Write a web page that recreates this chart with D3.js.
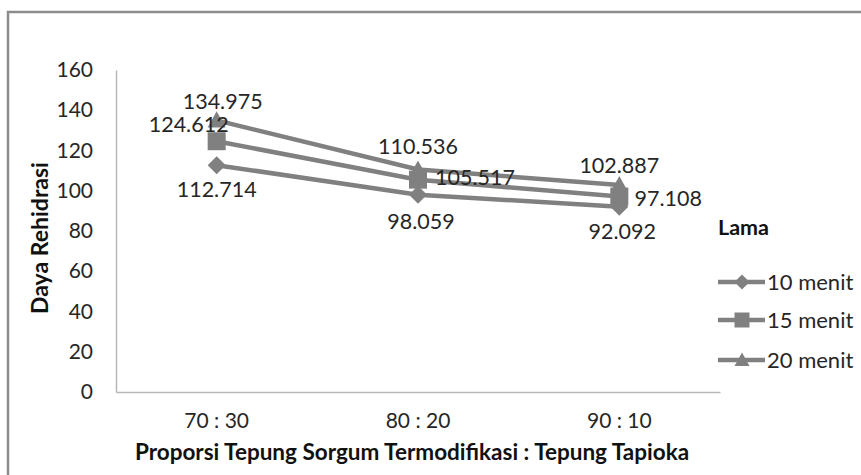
<!DOCTYPE html>
<html>
<head>
<meta charset="utf-8">
<script src="https://cdn.jsdelivr.net/npm/d3@7/dist/d3.min.js"></script>
<style>
  html, body { margin: 0; padding: 0; background: #fff; }
  svg { display: block; }
</style>
</head>
<body>
<svg id="chart" width="861" height="475"></svg>
<script>
// ---- data ----
const categories = ["70 : 30", "80 : 20", "90 : 10"];
const seriesNames = ["10 menit", "15 menit", "20 menit"];
const values10 = [112.714, 98.059, 92.092];
const values15 = [124.612, 105.517, 97.108];
const values20 = [134.975, 110.536, 102.887];
const yTicks = [0, 20, 40, 60, 80, 100, 120, 140, 160];
const labels10 = ["112.714", "98.059", "92.092"];
const labels15 = ["124.612", "105.517", "97.108"];
const labels20 = ["134.975", "110.536", "102.887"];

// label placement offsets (px) relative to marker, per series / point
const offsets10 = [[0, 24], [3, 27], [3, 25]];
const offsets15 = [[-28, -17], [57, -2], [49, 2]];
const offsets20 = [[6, -19], [0, -23], [0, -19]];

// custom marker shapes (size = full width in px)
const diamondType = { draw(ctx, s) { const r = s / 2; ctx.moveTo(0, -r); ctx.lineTo(r, 0); ctx.lineTo(0, r); ctx.lineTo(-r, 0); ctx.closePath(); } };
const squareType = { draw(ctx, s) { const r = s / 2; ctx.rect(-r, -r, s, s); } };
const triangleType = { draw(ctx, s) { const r = s / 2; ctx.moveTo(0, -r * 1.0); ctx.lineTo(r, r * 0.8); ctx.lineTo(-r, r * 0.8); ctx.closePath(); } };

const series = [
  { name: seriesNames[0], values: values10, labels: labels10, offsets: offsets10, symbol: diamondType },
  { name: seriesNames[1], values: values15, labels: labels15, offsets: offsets15, symbol: squareType },
  { name: seriesNames[2], values: values20, labels: labels20, offsets: offsets20, symbol: triangleType }
];

const svg = d3.select("#chart");
const lineColor = "#808080";
const textColor = "#262626";
const font = "Lato, 'Open Sans', sans-serif";

// outer frame (top and left visible)
svg.append("path")
  .attr("d", "M8,475 L8,12 L861,12")
  .attr("fill", "none")
  .attr("stroke", "#8c8c8c")
  .attr("stroke-width", 2.5);

const plot = { left: 116, right: 720, top: 70, bottom: 392 };

const x = d3.scaleBand().domain(categories).range([plot.left, plot.right]);
const y = d3.scaleLinear().domain([0, 160]).range([plot.bottom, plot.top]);

// axes
const xAxis = svg.append("g")
  .attr("transform", `translate(0,${plot.bottom})`)
  .call(d3.axisBottom(x).tickSize(0).tickPadding(21));
xAxis.select(".domain").attr("stroke", "#b8b8b8").attr("stroke-width", 1.5);
xAxis.selectAll("text")
  .attr("font-family", font).attr("font-size", 21).attr("fill", textColor);

const yAxis = svg.append("g")
  .attr("transform", `translate(${plot.left},0)`)
  .call(d3.axisLeft(y).tickValues(yTicks).tickSize(0).tickPadding(23));
yAxis.select(".domain").attr("stroke", "#b8b8b8").attr("stroke-width", 1.5);
yAxis.selectAll("text")
  .attr("font-family", font).attr("font-size", 21).attr("fill", textColor);

// axis titles
svg.append("text")
  .attr("x", 412).attr("y", 460)
  .attr("text-anchor", "middle")
  .attr("font-family", font).attr("font-size", 22.5).attr("font-weight", "bold")
  .attr("fill", "#111")
  .text("Proporsi  Tepung Sorgum Termodifikasi : Tepung Tapioka");

svg.append("text")
  .attr("transform", "translate(48,238) rotate(-90)")
  .attr("text-anchor", "middle")
  .attr("font-family", font).attr("font-size", 23).attr("font-weight", "bold")
  .attr("fill", "#111")
  .text("Daya Rehidrasi");

// lines
const line = d3.line()
  .x((d, i) => x(categories[i]) + x.bandwidth() / 2)
  .y(d => y(d));

series.forEach(s => {
  svg.append("path")
    .datum(s.values)
    .attr("fill", "none")
    .attr("stroke", lineColor)
    .attr("stroke-width", 4.5)
    .attr("d", line);
});

series.forEach(s => {
  svg.selectAll(null)
    .data(s.values)
    .enter().append("path")
    .attr("transform", (d, i) => `translate(${x(categories[i]) + x.bandwidth() / 2},${y(d)})`)
    .attr("d", d3.symbol().type(s.symbol).size(18))
    .attr("fill", lineColor);
});

// data labels
series.forEach(s => {
  svg.selectAll(null)
    .data(s.values)
    .enter().append("text")
    .attr("x", (d, i) => x(categories[i]) + x.bandwidth() / 2 + s.offsets[i][0])
    .attr("y", (d, i) => y(d) + s.offsets[i][1])
    .attr("dy", "0.35em")
    .attr("text-anchor", "middle")
    .attr("font-family", font).attr("font-size", 21.5)
    .attr("fill", textColor)
    .text((d, i) => s.labels[i]);
});

// legend
svg.append("text")
  .attr("x", 718).attr("y", 227).attr("dy", "0.35em")
  .attr("font-family", font).attr("font-size", 21.5).attr("font-weight", "bold")
  .attr("fill", "#111")
  .text("Lama");

const legendY = [282, 320, 360];
series.forEach((s, i) => {
  const g = svg.append("g").attr("transform", `translate(0,${legendY[i]})`);
  g.append("line").attr("x1", 718).attr("x2", 765).attr("y1", 0).attr("y2", 0)
    .attr("stroke", lineColor).attr("stroke-width", 4.5);
  g.append("path").attr("transform", "translate(742,0)")
    .attr("d", d3.symbol().type(s.symbol).size(15))
    .attr("fill", lineColor);
  g.append("text").attr("x", 767).attr("y", 0).attr("dy", "0.35em")
    .attr("font-family", font).attr("font-size", 22).attr("fill", textColor)
    .text(s.name);
});
</script>
</body>
</html>
